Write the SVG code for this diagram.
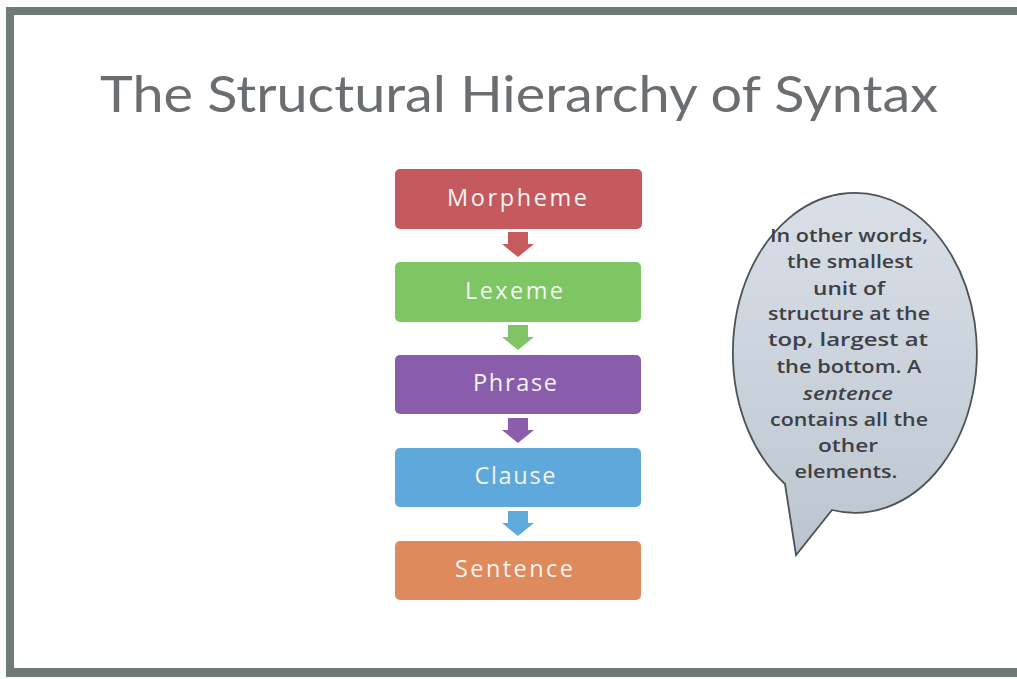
<svg xmlns="http://www.w3.org/2000/svg" width="1017" height="679" viewBox="0 0 1017 679">
<style>
.lbl{font-family:"Open Sans","DejaVu Sans",sans-serif;font-size:23.5px;fill:#f4f4f4;text-anchor:middle}
.bt{font-family:"Open Sans","DejaVu Sans",sans-serif;font-size:18px;font-weight:600;fill:#3d4045;text-anchor:middle}
.box{stroke:none}
</style>
<defs>
<linearGradient id="gb" x1="0" y1="0" x2="0" y2="1">
<stop offset="0" stop-color="#d9dfe7"/>
<stop offset="1" stop-color="#bcc5cf"/>
</linearGradient>
</defs>
<rect x="0" y="0" width="1017" height="679" fill="#fbfbfb"/>
<rect x="14" y="15" width="1003" height="653" fill="#ffffff"/>
<g id="frame" fill="#6f7a79">
<rect x="6" y="7" width="1011" height="8"/>
<rect x="6" y="7" width="8" height="670"/>
<rect x="6" y="668" width="1011" height="9"/>
</g>
<g id="title">
<text x="519" y="112" font-family="Lato,'Open Sans',sans-serif" font-size="51" fill="#6b6e71" text-anchor="middle" textLength="838" lengthAdjust="spacingAndGlyphs">The Structural Hierarchy of Syntax</text>
</g>
<g id="connectors">
<path d="M508,232 H528 V244 H534 L518,257 L502,244 H508 Z" fill="#c65a5d"/>
<path d="M508,325 H528 V337 H534 L518,350 L502,337 H508 Z" fill="#80c465"/>
<path d="M508,418 H528 V430 H534 L518,443 L502,430 H508 Z" fill="#8b5dab"/>
<path d="M508,511 H528 V523 H534 L518,536 L502,523 H508 Z" fill="#5fa9dc"/>
</g>
<g id="morpheme">
<rect class="box" x="395" y="169" width="247" height="60" rx="5" fill="#c45a5e"/>
<text class="lbl" x="517" y="206" textLength="140" lengthAdjust="spacing">Morpheme</text>
</g>
<g id="lexeme">
<rect class="box" x="395" y="262" width="246" height="60" rx="5" fill="#7ec563"/>
<text class="lbl" x="514" y="299" textLength="98" lengthAdjust="spacing">Lexeme</text>
</g>
<g id="phrase">
<rect class="box" x="395" y="355" width="246" height="59" rx="5" fill="#8a5cac"/>
<text class="lbl" x="515" y="391" textLength="84" lengthAdjust="spacing">Phrase</text>
</g>
<g id="clause">
<rect class="box" x="395" y="448" width="246" height="59" rx="5" fill="#5fa8dc"/>
<text class="lbl" x="515" y="484" textLength="81" lengthAdjust="spacing">Clause</text>
</g>
<g id="sentence">
<rect class="box" x="395" y="541" width="246" height="59" rx="5" fill="#df8a5d"/>
<text class="lbl" x="514" y="577" textLength="118" lengthAdjust="spacing">Sentence</text>
</g>
<g id="callout">
<path d="M785,484 L796,555 L832,510 A122,160 0 1 0 785,484 Z" fill="url(#gb)" stroke="#4d5257" stroke-width="1.8" stroke-linejoin="miter"/>
<text class="bt" x="849" y="242" textLength="158" lengthAdjust="spacingAndGlyphs">In other words,</text>
<text class="bt" x="850" y="268" textLength="126" lengthAdjust="spacingAndGlyphs">the smallest</text>
<text class="bt" x="849" y="295" textLength="72" lengthAdjust="spacingAndGlyphs">unit of</text>
<text class="bt" x="849" y="320" textLength="162" lengthAdjust="spacingAndGlyphs">structure at the</text>
<text class="bt" x="848" y="346" textLength="160" lengthAdjust="spacingAndGlyphs">top, largest at</text>
<text class="bt" x="849" y="373" textLength="145" lengthAdjust="spacingAndGlyphs">the bottom. A</text>
<text class="bt" x="848" y="400" font-style="italic" textLength="90" lengthAdjust="spacingAndGlyphs">sentence</text>
<text class="bt" x="849" y="426" textLength="158" lengthAdjust="spacingAndGlyphs">contains all the</text>
<text class="bt" x="848" y="452" textLength="60" lengthAdjust="spacingAndGlyphs">other</text>
<text class="bt" x="846" y="478" textLength="103" lengthAdjust="spacingAndGlyphs">elements.</text>
</g>
</svg>
